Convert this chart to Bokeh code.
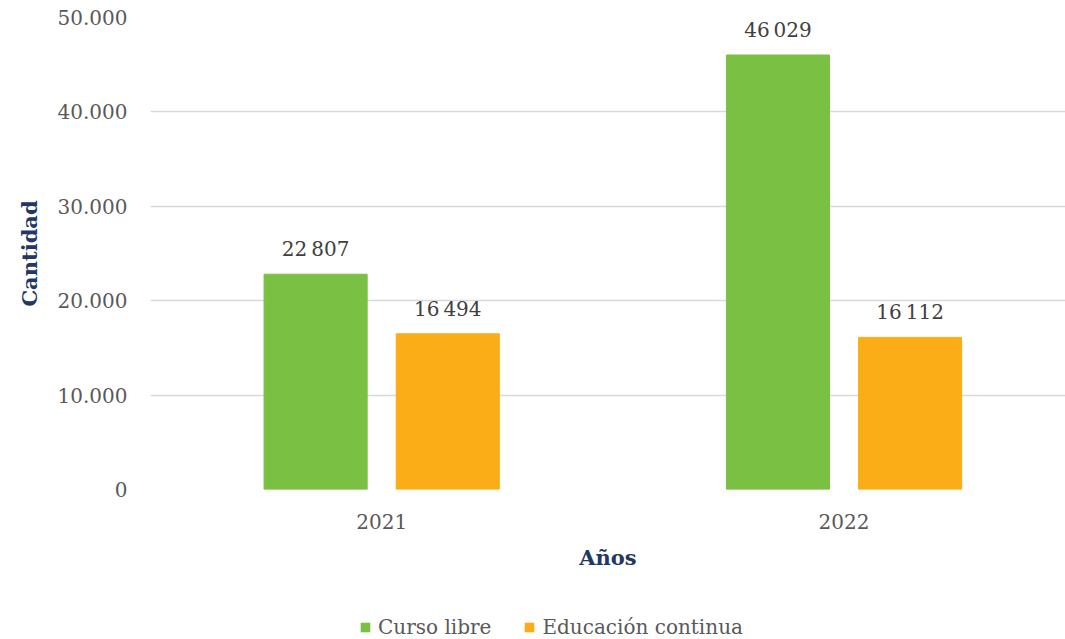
from bokeh.plotting import figure
from bokeh.layouts import column
from bokeh.models import ColumnDataSource, Legend, LegendItem, FixedTicker, Range1d
from bokeh.transform import dodge
from bokeh.core.properties import value
from bokeh.embed import file_html
from bokeh.resources import INLINE

years = ["2021", "2022"]
curso_libre = [22807, 46029]
educacion_continua = [16494, 16112]
series_names = ["Curso libre", "Educación continua"]
y_ticks = [0, 10000, 20000, 30000, 40000, 50000]
y_tick_labels = ["0", "10.000", "20.000", "30.000", "40.000", "50.000"]

FONT = "DejaVu Serif"
GREEN = "#7AC143"
ORANGE = "#FBAD18"
NAVY = "#1F3864"


def fmt(v):
    return f"{v:,}".replace(",", "\u2009")


xs = list(range(len(years)))
src = ColumnDataSource(dict(
    x=xs,
    cl=curso_libre,
    ec=educacion_continua,
    cl_txt=[fmt(v) for v in curso_libre],
    ec_txt=[fmt(v) for v in educacion_continua],
))

chart = figure(width=1065, height=600,
               x_range=Range1d(-0.5, 1.479), y_range=Range1d(0, 50000),
               output_backend="svg", toolbar_location=None,
               min_border_left=150, min_border_right=0,
               min_border_top=17, min_border_bottom=111)
chart.outline_line_color = None
chart.xgrid.grid_line_color = None
chart.ygrid.grid_line_color = "#D9D9D9"
chart.ygrid.grid_line_width = 1.5
chart.ygrid.ticker = FixedTicker(ticks=y_ticks)

off = 0.1429
bw = 0.223
chart.vbar(x=dodge("x", -off, range=chart.x_range), top="cl", width=bw, source=src,
           fill_color=GREEN, line_color=GREEN)
chart.vbar(x=dodge("x", off, range=chart.x_range), top="ec", width=bw, source=src,
           fill_color=ORANGE, line_color=ORANGE)

for col, txt, o in (("cl", "cl_txt", -off), ("ec", "ec_txt", off)):
    chart.text(x=dodge("x", o, range=chart.x_range), y=col, text=txt, source=src,
               text_align="center", text_baseline="alphabetic", y_offset=-25,
               text_font=value(FONT), text_font_size="20px", text_color="#404040")

# y axis
ya = chart.yaxis[0]
ya.ticker = FixedTicker(ticks=y_ticks)
ya.major_label_overrides = {t: l for t, l in zip(y_ticks, y_tick_labels)}
ya.axis_line_color = None
ya.major_tick_line_color = None
ya.minor_tick_line_color = None
ya.major_label_standoff = 17
ya.major_label_text_font = FONT
ya.major_label_text_font_size = "20px"
ya.major_label_text_color = "#595959"
ya.axis_label = "Cantidad"
ya.axis_label_text_font = FONT
ya.axis_label_text_font_size = "21px"
ya.axis_label_text_font_style = "bold"
ya.axis_label_text_color = NAVY
ya.axis_label_standoff = 13

# x axis
xa = chart.xaxis[0]
xa.ticker = FixedTicker(ticks=xs)
xa.major_label_overrides = {i: y for i, y in zip(xs, years)}
xa.axis_line_color = None
xa.major_tick_line_color = None
xa.minor_tick_line_color = None
xa.major_label_standoff = 18
xa.major_label_text_font = FONT
xa.major_label_text_font_size = "20px"
xa.major_label_text_color = "#595959"
xa.axis_label = "Años"
xa.axis_label_text_font = FONT
xa.axis_label_text_font_size = "21px"
xa.axis_label_text_font_style = "bold"
xa.axis_label_text_color = NAVY
xa.axis_label_standoff = 13

# legend strip below the chart (keys only; their zero-height bars draw nothing)
leg = figure(width=1065, height=39, x_range=Range1d(0, 1), y_range=Range1d(0, 1),
             output_backend="svg", toolbar_location=None,
             x_axis_location=None, y_axis_location=None,
             min_border_left=0, min_border_right=0, min_border_top=0, min_border_bottom=0)
leg.outline_line_color = None
leg.xgrid.grid_line_color = None
leg.ygrid.grid_line_color = None
k1 = leg.vbar(x=[0.5], top=[0], bottom=[0], width=0.01,
              fill_color=GREEN, line_color=GREEN, line_alpha=0)
k2 = leg.vbar(x=[0.5], top=[0], bottom=[0], width=0.01,
              fill_color=ORANGE, line_color=ORANGE, line_alpha=0)
legend = Legend(items=[LegendItem(label=series_names[0], renderers=[k1]),
                       LegendItem(label=series_names[1], renderers=[k2])],
                orientation="horizontal", location=(209, 0),
                glyph_width=12, glyph_height=12, label_standoff=7, spacing=32,
                padding=0, margin=0, border_line_color=None,
                background_fill_alpha=0,
                label_text_font=FONT, label_text_font_size="20px",
                label_text_color="#595959")
leg.add_layout(legend)

p = column(chart, leg, spacing=0)

open("out.html", "w").write(file_html(p, INLINE))
